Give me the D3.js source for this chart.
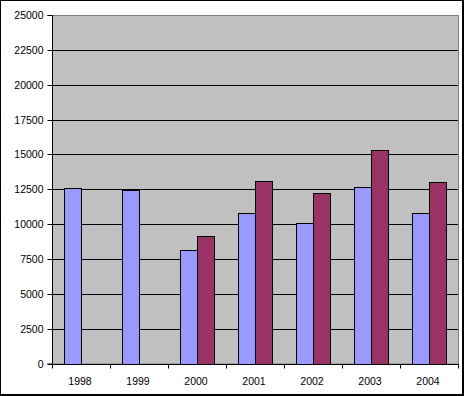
<!DOCTYPE html>
<html>
<head>
<meta charset="utf-8">
<script src="https://cdn.jsdelivr.net/npm/d3@7"></script>
<style>
  body { margin: 0; background: #fff; }
  text { font-family: "Liberation Sans", Arial, sans-serif; font-size: 10.5px; fill: #000; }
</style>
</head>
<body>
<div id="chart"></div>
<script>
// values
var years = ["1998", "1999", "2000", "2001", "2002", "2003", "2004"];
var series1 = [12580, 12430, 8140, 10780, 10060, 12640, 10780];
var series2 = [null, null, 9130, 13070, 12230, 15290, 13000];
var yTicks = [0, 2500, 5000, 7500, 10000, 12500, 15000, 17500, 20000, 22500, 25000];

var W = 464, H = 396;
var plotLeft = 52, plotRight = 458, plotTop = 15, plotBottom = 363.5;

var svg = d3.select("#chart").append("svg")
    .attr("width", W)
    .attr("height", H);

// chart border (1px top/left, 2px right/bottom)
svg.append("rect").attr("x", 0).attr("y", 0).attr("width", W).attr("height", H).attr("fill", "#000");
svg.append("rect").attr("x", 1).attr("y", 1).attr("width", 461).attr("height", 393).attr("fill", "#fff");

var x = d3.scaleBand()
    .domain(years)
    .range([plotLeft, plotRight])
    .padding(0);

var sub = d3.scaleBand()
    .domain(["s1", "s2"])
    .range([0, x.bandwidth()])
    .paddingInner(0)
    .paddingOuter(0.75);

var y = d3.scaleLinear()
    .domain([0, 25000])
    .range([plotBottom, plotTop]);

// plot area
svg.append("rect")
    .attr("x", plotLeft + 0.5)
    .attr("y", plotTop + 0.5)
    .attr("width", plotRight - plotLeft)
    .attr("height", plotBottom - plotTop)
    .attr("fill", "#c0c0c0")
    .attr("stroke", "#808080")
    .attr("stroke-width", 1);

// gridlines
svg.append("g")
    .selectAll("line")
    .data(yTicks.filter(function (d) { return d > 0 && d < 25000; }))
    .enter().append("line")
    .attr("x1", plotLeft)
    .attr("x2", plotRight)
    .attr("y1", function (d) { return Math.round(y(d)) + 0.5; })
    .attr("y2", function (d) { return Math.round(y(d)) + 0.5; })
    .attr("stroke", "#000")
    .attr("stroke-width", 1);

var data = [];
years.forEach(function (yr, i) {
    if (series1[i] != null) data.push({ year: yr, s: "s1", v: series1[i] });
    if (series2[i] != null) data.push({ year: yr, s: "s2", v: series2[i] });
});

svg.append("g")
    .selectAll("rect")
    .data(data)
    .enter().append("rect")
    .attr("x", function (d) { return Math.round(x(d.year) + sub(d.s)) + 0.5; })
    .attr("y", function (d) { return Math.round(y(d.v)) + 0.5; })
    .attr("width", function (d) { return Math.round(sub.bandwidth()); })
    .attr("height", function (d) { return Math.round(plotBottom) - Math.round(y(d.v)); })
    .attr("fill", function (d) { return d.s == "s1" ? "#9999ff" : "#993366"; })
    .attr("stroke", "#000")
    .attr("stroke-width", 1);

// y axis
var yAxis = svg.append("g")
    .attr("transform", "translate(" + (plotLeft + 0.5) + ",0.5)")
    .call(d3.axisLeft(y).tickValues(yTicks).tickSize(5).tickPadding(4).tickFormat(d3.format("d")));
yAxis.select(".domain").attr("d", "M-5," + y(25000) + "H0V" + y(0) + "H-5");
yAxis.selectAll("path, line").attr("stroke", "#000");
yAxis.selectAll(".tick").attr("transform", function (d) { return "translate(0," + Math.round(y(d)) + ")"; });
yAxis.selectAll("text").style("font-family", "'Liberation Sans', Arial, sans-serif").style("font-size", "10.5px");

// x axis
var xAxisG = svg.append("g")
    .attr("transform", "translate(0," + (Math.round(plotBottom) + 0.5) + ")");
xAxisG.append("line")
    .attr("x1", plotLeft).attr("x2", plotRight + 1)
    .attr("y1", 0).attr("y2", 0)
    .attr("stroke", "#000");
xAxisG.selectAll(".tk")
    .data(years.concat(["end"]))
    .enter().append("line")
    .attr("x1", function (d, i) { return Math.round(plotLeft + i * x.bandwidth()) + 0.5; })
    .attr("x2", function (d, i) { return Math.round(plotLeft + i * x.bandwidth()) + 0.5; })
    .attr("y1", 0).attr("y2", 4)
    .attr("stroke", "#000");
xAxisG.selectAll("text")
    .data(years)
    .enter().append("text")
    .attr("x", function (d) { return x(d) + x.bandwidth() / 2 - 1; })
    .attr("y", 20)
    .attr("text-anchor", "middle")
    .text(function (d) { return d; });
</script>
</body>
</html>
